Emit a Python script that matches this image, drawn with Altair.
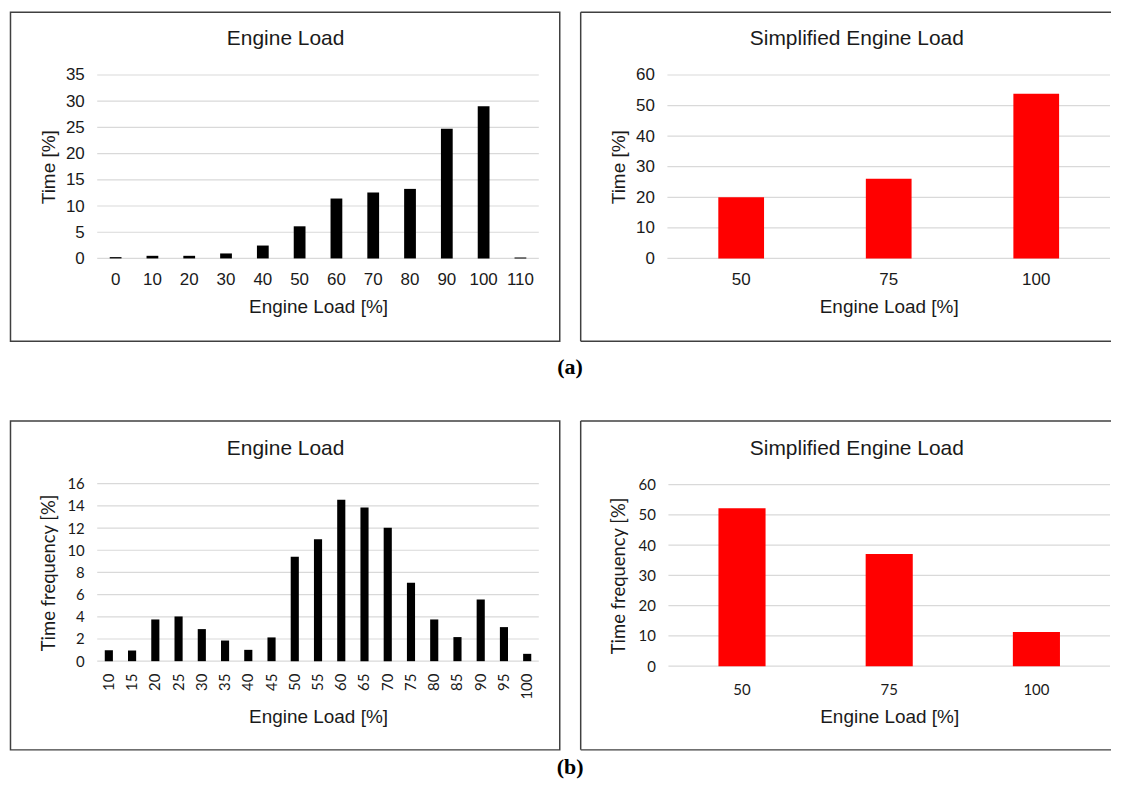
import altair as alt
import pandas as pd

# ---------------- data ----------------
a_load = ["0", "10", "20", "30", "40", "50", "60", "70", "80", "90", "100", "110"]
a_time = [0.25, 0.5, 0.5, 0.95, 2.46, 6.13, 11.43, 12.57, 13.27, 24.76, 29.06, 0.2]
a_yticks = [0, 5, 10, 15, 20, 25, 30, 35]

simp_load = ["50", "75", "100"]
a_simp_time = [20.0, 26.1, 53.9]
simp_yticks = [0, 10, 20, 30, 40, 50, 60]

b_load = ["10", "15", "20", "25", "30", "35", "40", "45", "50", "55",
          "60", "65", "70", "75", "80", "85", "90", "95", "100"]
b_freq = [0.99, 0.96, 3.76, 4.03, 2.89, 1.86, 1.02, 2.14, 9.41, 11.0,
          14.56, 13.86, 12.03, 7.07, 3.76, 2.17, 5.56, 3.07, 0.66]
b_yticks = [0, 2, 4, 6, 8, 10, 12, 14, 16]

b_simp_freq = [52.2, 37.1, 11.3]

GRID = "#d9d9d9"
TXT = "#1a1a1a"
BOX = "#404040"
ARIAL = "Liberation Sans"
CALIBRI = "Lato"


def panel(cats, vals, color, yticks, ytitle, title, g, tick_font, tick_size, ytitle_font,
          angle=0, open_right=False):
    W, H, L, R, T, B = g["W"], g["H"], g["L"], g["R"], g["T"], g["B"]
    df = pd.DataFrame({"load": cats, "val": vals})
    gdf = pd.DataFrame({"v": yticks})
    tdf = pd.DataFrame({"t": [title]})
    ysc = alt.Scale(domain=[yticks[0], yticks[-1]], range=[B, T], nice=False)
    pi = g["pi"]
    xsc = alt.Scale(domain=cats, range=[L, R], paddingInner=pi, paddingOuter=pi / 2)

    yaxis = alt.Axis(
        title=ytitle, values=yticks, grid=False, domain=False, ticks=False,
        offset=-L, labelPadding=13, labelFont=tick_font, labelFontSize=tick_size,
        labelColor=TXT, titleFont=ytitle_font, titleFontSize=g["ytsize"],
        titleFontWeight="normal", titleColor=TXT, titleX=g["ytx"] - L,
        titleY=(T + B) / 2, titleBaseline="middle", titleAlign="center")
    xaxis = alt.Axis(
        title="Engine Load [%]", labelAngle=angle, grid=False, domain=False, ticks=False,
        offset=B - H, labelPadding=g["xlp"], labelFont=tick_font, labelFontSize=tick_size,
        labelColor=TXT, labelOverlap=False, titleFont=ARIAL, titleFontSize=19,
        titleFontWeight="normal", titleColor=TXT, titleX=(L + R) / 2,
        titleY=g["xty"] - B, titleBaseline="middle", titleAlign="center")

    grid = alt.Chart(gdf).mark_rule(color=GRID, strokeWidth=1.2).encode(
        y=alt.Y("v:Q", scale=ysc, axis=yaxis, title=ytitle),
        x=alt.value(L), x2=alt.value(R))

    bars = alt.Chart(df).mark_bar(color=color).encode(
        x=alt.X("load:N", sort=cats, scale=xsc, axis=xaxis),
        y=alt.Y("val:Q", scale=ysc, axis=yaxis, title=ytitle))

    ttl = alt.Chart(tdf).mark_text(font=ARIAL, fontSize=21, color=TXT).encode(
        x=alt.value(g["tx"]), y=alt.value(g["ty"]), text="t:N")

    layers = [grid, bars, ttl]
    if open_right:
        base = alt.Chart(tdf)
        layers += [
            base.mark_rule(color=BOX, strokeWidth=1.5).encode(
                x=alt.value(0), x2=alt.value(W), y=alt.value(0)),
            base.mark_rule(color=BOX, strokeWidth=1.5).encode(
                x=alt.value(0), x2=alt.value(W), y=alt.value(H)),
            base.mark_rule(color=BOX, strokeWidth=1.5).encode(
                x=alt.value(0), y=alt.value(0), y2=alt.value(H)),
        ]
        return alt.layer(*layers).properties(
            width=W, height=H, view=alt.ViewBackground(stroke="transparent"))
    return alt.layer(*layers).properties(width=W, height=H)


gA1 = dict(W=551, H=330, L=87, R=530, T=63, B=247, tx=276, ty=27, ytx=38, xty=295, xlp=13, pi=0.68, ytsize=19)
gA2 = dict(W=532, H=330, L=87, R=531, T=63, B=247, tx=277, ty=27, ytx=38, xty=295, xlp=13, pi=0.69, ytsize=19)
gB1 = dict(W=551, H=330, L=87, R=530, T=63, B=241, tx=276, ty=28, ytx=38, xty=297, xlp=12, pi=0.65, ytsize=18.5)
gB2 = dict(W=532, H=330, L=88, R=531, T=64, B=246, tx=277, ty=28, ytx=38, xty=297, xlp=16, pi=0.68, ytsize=18.5)

pA1 = panel(a_load, a_time, "#000000", a_yticks, "Time [%]", "Engine Load", gA1, ARIAL, 17, ARIAL)
pA2 = panel(simp_load, a_simp_time, "#ff0000", simp_yticks, "Time [%]", "Simplified Engine Load", gA2,
            ARIAL, 17, ARIAL, open_right=True)
pB1 = panel(b_load, b_freq, "#000000", b_yticks, "Time frequency [%]", "Engine Load", gB1,
            CALIBRI, 15, CALIBRI, angle=-90)
pB2 = panel(simp_load, b_simp_freq, "#ff0000", simp_yticks, "Time frequency [%]", "Simplified Engine Load", gB2,
            CALIBRI, 15, CALIBRI, open_right=True)


def row_title(txt, off):
    return alt.TitleParams(txt, orient="bottom", anchor="middle", font="Liberation Serif",
                           fontSize=22, fontWeight="bold", color="#000000", offset=off, dx=9)


row_a = alt.hconcat(pA1, pA2, spacing=18, title=row_title("(a)", 14))
row_b = alt.hconcat(pB1, pB2, spacing=18, title=row_title("(b)", 6))

chart = alt.vconcat(row_a, row_b, spacing=41).properties(
    padding={"left": 1.5, "top": 1, "right": 0, "bottom": 0},
    background="#ffffff",
).configure_view(stroke=BOX, strokeWidth=1.5)

chart.save("out.html", embed_options={"renderer": "svg", "actions": False})
